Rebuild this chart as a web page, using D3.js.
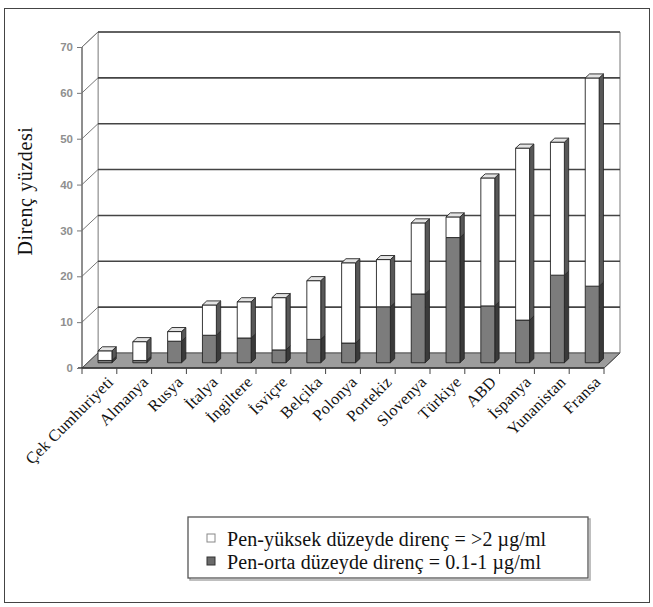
<!DOCTYPE html>
<html><head><meta charset="utf-8">
<script src="https://cdn.jsdelivr.net/npm/d3@7"></script>
<style>body{margin:0;background:#fff}svg{display:block}</style>
</head><body>
<svg id="c" width="653" height="607"></svg>
<script>
const categories = ["Çek Cumhuriyeti","Almanya","Rusya","İtalya","İngiltere","İsviçre","Belçika","Polonya","Portekiz","Slovenya","Türkiye","ABD","İspanya","Yunanistan","Fransa"];
// Pen-orta düzeyde direnç (dark, bottom)
const midValues = [0.5,0.5,4.7,6.0,5.4,2.8,5.1,4.3,12.2,15.0,27.3,12.4,9.3,19.1,16.7];
// Pen-yüksek düzeyde direnç (white, top)
const highValues = [2.1,4.1,2.1,6.6,7.9,11.4,12.8,17.5,10.3,15.5,4.5,27.9,37.5,29.0,45.4];
const yTicks = [0,10,20,30,40,50,60,70];
const seriesNames = ["Pen-yüksek düzeyde direnç = >2 µg/ml","Pen-orta düzeyde direnç = 0.1-1 µg/ml"];

const svg = d3.select("#c");
const serif = "'Liberation Serif','DejaVu Serif',serif";
const DX = 16, DY = -15;           // depth vector (front -> back)
const F1 = 0.35, F2 = 0.62;        // bar depth fractions
const y = d3.scaleLinear().domain([0,70]).range([368,47]);
const x = d3.scaleBand().domain(categories).range([82,604]).paddingInner(0.6).paddingOuter(0.3);
const X0 = 82, X1 = 604;
const P = (px, v, f) => [px + f*DX, y(v) + f*DY];
const poly = pts => pts.map(p => p.join(",")).join(" ");

// outer border
svg.append("rect").attr("x",4.5).attr("y",8.5).attr("width",645).attr("height",594)
  .attr("fill","none").attr("stroke","#444").attr("stroke-width",1);

// back wall
svg.append("polygon").attr("points", poly([P(X0,0,1),P(X1,0,1),P(X1,70,1),P(X0,70,1)]))
  .attr("fill","#fff").attr("stroke","#777").attr("stroke-width",1);
// side wall
svg.append("polygon").attr("points", poly([P(X0,0,0),P(X0,0,1),P(X0,70,1),P(X0,70,0)]))
  .attr("fill","#fff").attr("stroke","#999").attr("stroke-width",1);

// gridlines on back wall + side wall diagonals
yTicks.forEach(t => {
  if (t > 0) svg.append("line").attr("x1",P(X0,t,1)[0]).attr("y1",P(X0,t,1)[1])
    .attr("x2",P(X1,t,1)[0]).attr("y2",P(X1,t,1)[1]).attr("stroke","#444").attr("stroke-width",1.6);
  svg.append("line").attr("x1",P(X0,t,0)[0]).attr("y1",P(X0,t,0)[1])
    .attr("x2",P(X0,t,1)[0]).attr("y2",P(X0,t,1)[1]).attr("stroke","#777").attr("stroke-width",1);
});

// floor
svg.append("polygon").attr("points", poly([P(X0,0,0),P(X1,0,0),P(X1,0,1),P(X0,0,1)]))
  .attr("fill","#9c9c9c").attr("stroke","#555").attr("stroke-width",1);

// bars
function box(g, left, w, v0, v1, front, side, top, drawTop){
  const r = left + w;
  g.append("polygon").attr("points", poly([P(r,v0,F1),P(r,v0,F2),P(r,v1,F2),P(r,v1,F1)]))
    .attr("fill",side).attr("stroke","#222").attr("stroke-width",0.8);
  g.append("polygon").attr("points", poly([P(left,v0,F1),P(r,v0,F1),P(r,v1,F1),P(left,v1,F1)]))
    .attr("fill",front).attr("stroke","#222").attr("stroke-width",0.9);
  if (drawTop) g.append("polygon").attr("points", poly([P(left,v1,F1),P(r,v1,F1),P(r,v1,F2),P(left,v1,F2)]))
    .attr("fill",top).attr("stroke","#222").attr("stroke-width",0.9);
}
const bars = svg.append("g");
categories.forEach((c,i) => {
  const g = bars.append("g");
  const l = x(c), w = x.bandwidth();
  const m = midValues[i], h = highValues[i];
  box(g, l, w, 0, m, "#7c7c7c", "#3a3a3a", "#888", false);
  box(g, l, w, m, m + h, "#ffffff", "#585858", "#e4e4e4", true);
});

// front axis lines
svg.append("line").attr("x1",X0).attr("y1",y(0)).attr("x2",X0).attr("y2",y(70)).attr("stroke","#666").attr("stroke-width",1.2);
svg.append("line").attr("x1",X0-4).attr("y1",y(0)).attr("x2",X1).attr("y2",y(0)).attr("stroke","#333").attr("stroke-width",1.4);
svg.append("line").attr("x1",X1).attr("y1",y(0)).attr("x2",X1+DX).attr("y2",y(0)+DY).attr("stroke","#555").attr("stroke-width",1);

// y axis ticks & labels
const yAxis = d3.axisLeft(y).tickValues(yTicks).tickSize(5).tickPadding(4);
const ya = svg.append("g").attr("transform",`translate(${X0},0)`).call(yAxis);
ya.select(".domain").remove();
ya.selectAll(".tick line").attr("stroke","#777");
ya.selectAll(".tick text").attr("fill","#8f8f8f").attr("font-family","'Liberation Sans',Arial,sans-serif").attr("font-size",11.5).attr("font-weight","bold");

// x ticks at band boundaries
const step = x.step();
d3.range(categories.length + 1).forEach(k => {
  const tx = X0 + k*step;
  svg.append("line").attr("x1",tx).attr("y1",y(0)).attr("x2",tx).attr("y2",y(0)+6).attr("stroke","#444").attr("stroke-width",1);
});

// x labels
svg.append("g").selectAll("text").data(categories).join("text")
  .attr("transform", d => `translate(${x(d) + x.bandwidth()/2 + 11},${y(0)+11}) rotate(-45)`)
  .attr("text-anchor","end").attr("dy","0.35em")
  .attr("font-family",serif).attr("font-size",16.2).attr("letter-spacing",0.3).attr("fill","#111")
  .text(d => d);

// y title
svg.append("text").attr("transform","translate(32,191) rotate(-90)")
  .attr("text-anchor","middle").attr("font-family",serif).attr("font-size",20).attr("letter-spacing",0.6).attr("fill","#111")
  .text("Direnç yüzdesi");

// legend
const lg = svg.append("g");
lg.append("rect").attr("x",190).attr("y",519).attr("width",400).attr("height",61).attr("fill","none").attr("stroke","#aaa").attr("stroke-width",1.5);
lg.append("rect").attr("x",188).attr("y",517).attr("width",400).attr("height",61).attr("fill","#fff").attr("stroke","#555").attr("stroke-width",1.3);
const swatch = ["#ffffff","#6a6a6a"];
seriesNames.forEach((s,i) => {
  lg.append("rect").attr("x",207).attr("y",534 + i*23).attr("width",8).attr("height",8)
    .attr("fill",swatch[i]).attr("stroke", i ? "#333" : "#888").attr("stroke-width",1);
  lg.append("text").attr("x",227).attr("y",546 + i*23).attr("font-family",serif).attr("font-size",20).attr("letter-spacing",0.1).attr("fill","#111").text(s);
});
</script>
</body></html>
